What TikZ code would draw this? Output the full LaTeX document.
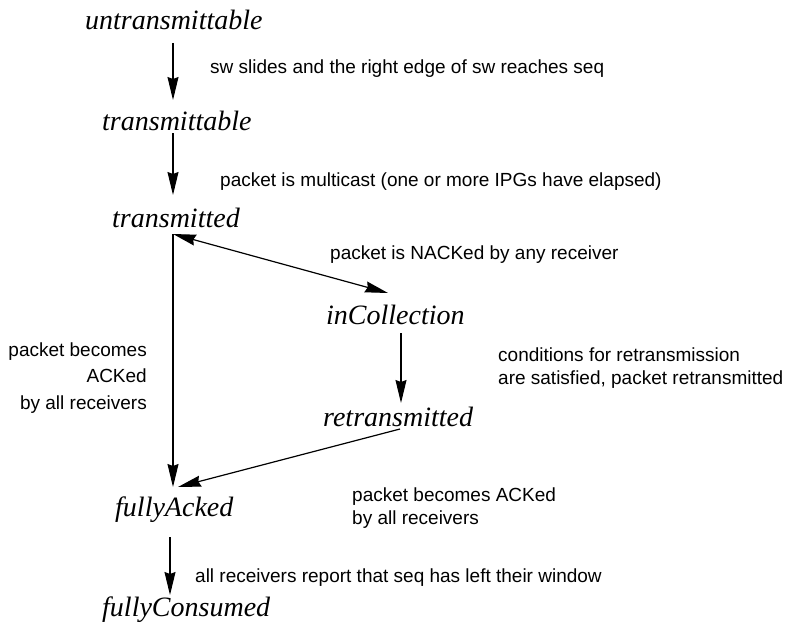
\documentclass[tikz,border=0pt]{standalone}
\usepackage{fontspec}
\setmainfont{Liberation Serif}
\newfontfamily\labelfont{Liberation Sans}
\usetikzlibrary{arrows.meta}
\begin{document}
\begin{tikzpicture}[x=1pt,y=-1pt,
  state/.style={font=\fontsize{28}{30}\selectfont\itshape, inner sep=0pt, anchor=base west},
  note/.style={font=\labelfont\fontsize{19}{23}\selectfont, inner sep=0pt, anchor=base west, align=left},
  tip/.tip={Stealth[length=23pt,width=11pt,inset=2pt]},
  trans/.style={line width=1.2pt, -tip},
  both/.style={line width=1.2pt, tip-tip}]
  \useasboundingbox (0,0) rectangle (788,626);

  % states
  \node[state] (untx)  at (85,30)   {untransmittable};
  \node[state] (tx)    at (102,130) {transmittable};
  \node[state] (sent)  at (112,227) {transmitted};
  \node[state] (coll)  at (326,324) {inCollection};
  \node[state] (retx)  at (323,426) {retransmitted};
  \node[state] (acked) at (115,516) {fullyAcked};
  \node[state] (done)  at (102,616) {fullyConsumed};

  % connector end points
  \coordinate (c1a) at (173,43);  \coordinate (c1b) at (173,100);
  \coordinate (c2a) at (173,133); \coordinate (c2b) at (173,195);
  \coordinate (corner) at (173,234);
  \coordinate (collin) at (388,293);
  \coordinate (c3a) at (401,333); \coordinate (c3b) at (401,403);
  \coordinate (retxout) at (400,429);
  \coordinate (ackin) at (173,487);
  \coordinate (ackslant) at (178,487);
  \coordinate (c4a) at (170,537); \coordinate (c4b) at (170,595);

  \draw[trans] (c1a) -- (c1b);
  \draw[trans] (c2a) -- (c2b);
  \draw[both] (corner) -- (collin);
  \draw[trans] (corner) -- (ackin);
  \draw[trans] (c3a) -- (c3b);
  \draw[trans] (retxout) -- (ackslant);
  \draw[trans] (c4a) -- (c4b);

  % transition conditions (base anchor = baseline of the last line)
  \node[note] (n1) at (210,74)  {sw slides and the right edge of sw reaches seq};
  \node[note] (n2) at (220,186) {packet is multicast (one or more IPGs have elapsed)};
  \node[note] (n3) at (330,259) {packet is NACKed by any receiver};
  \node[note] (n4) at (498,384) {conditions for retransmission\\are satisfied, packet retransmitted};
  \node[note, anchor=base east, align=right, font=\labelfont\fontsize{19}{26.5}\selectfont]
    (n5) at (147,409) {packet becomes\\ACKed\\by all receivers};
  \node[note, font=\labelfont\fontsize{19}{22.5}\selectfont] (n6) at (352,524) {packet becomes ACKed\\by all receivers};
  \node[note] (n7) at (195,582) {all receivers report that seq has left their window};
\end{tikzpicture}
\end{document}
